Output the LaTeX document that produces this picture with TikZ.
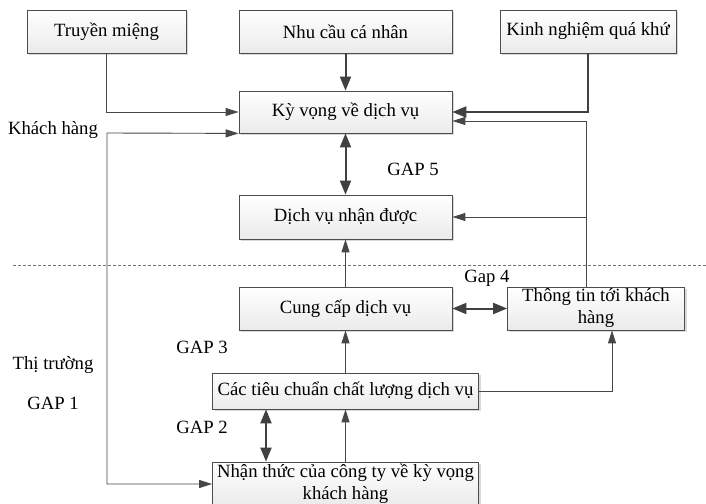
\documentclass[tikz,border=0pt]{standalone}
\usepackage{fontspec}
\setmainfont{Liberation Serif}
\usetikzlibrary{arrows.meta,shadows,calc}
\begin{document}
\begin{tikzpicture}[x=1pt,y=-1pt,
  box/.style={draw=black!70, line width=0.8pt, top color=white, bottom color=black!8,
    drop shadow={shadow xshift=2pt, shadow yshift=-2pt, fill=black!15, opacity=1},
    inner sep=0pt, align=center, font=\fontsize{18.7}{22}\selectfont},
  lbl/.style={font=\fontsize{18.7}{22}\selectfont, inner sep=0pt},
  lnthin/.style={draw=black!72, line width=0.9pt, -{Triangle[length=13pt,width=8pt]}},
  lnthinboth/.style={draw=black!72, line width=0.9pt, {Triangle[length=13pt,width=8pt]}-{Triangle[length=13pt,width=8pt]}},
  lnthick/.style={draw=black!75, line width=2pt, -{Triangle[length=14pt,width=11pt]}},
  lnthickboth/.style={draw=black!75, line width=2pt, {Triangle[length=14pt,width=11pt]}-{Triangle[length=14pt,width=11pt]}},
]
\useasboundingbox[fill=white] (0,0) rectangle (706,503);

\node[box, minimum width=159pt, minimum height=43pt] (tm) at (106.5,31.5) {Truyền miệng};
\node[box, minimum width=213pt, minimum height=43pt] (nc) at (345.5,31.5) {Nhu cầu cá nhân};
\node[box, minimum width=176pt, minimum height=43pt] (kn) at (588,31.5) {Kinh nghiệm quá khứ};
\node[box, minimum width=213pt, minimum height=42pt] (kv) at (345.5,112) {Kỳ vọng về dịch vụ};
\node[box, minimum width=213pt, minimum height=44pt] (dv) at (345.5,217) {Dịch vụ nhận được};
\node[box, minimum width=213pt, minimum height=43pt] (cc) at (345.5,308.5) {Cung cấp dịch vụ};
\node[box, minimum width=177pt, minimum height=43pt] (tt) at (596,308.5) {Thông tin tới khách\\hàng};
\node[box, minimum width=266pt, minimum height=36pt] (ts) at (345.5,391) {Các tiêu chuẩn chất lượng dịch vụ};
\node[box, minimum width=266pt, minimum height=44pt] (nt) at (345.5,484) {Nhận thức của công ty về kỳ vọng\\khách hàng};

\draw[black!55, line width=0.7pt, dash pattern=on 3pt off 2pt] (13,265) -- (706,265);

\node[lbl] (l1) at (53,130) {Khách hàng};
\node[lbl] (l2) at (413,169) {GAP 5};
\node[lbl] (l3) at (487,278) {Gap 4};
\node[lbl] (l4) at (202,347) {GAP 3};
\node[lbl] (l5) at (53,365) {Thị trường};
\node[lbl] (l6) at (53,403) {GAP 1};
\node[lbl] (l7) at (202,427) {GAP 2};

\coordinate (c1) at (107,133);
\coordinate (c2) at (107,484);
\coordinate (j1) at (586,121);
\coordinate (j2) at (586,217);
\coordinate (j3) at (612,391);
\coordinate (g2) at (266,0);

\draw[lnthin] (tm.south) |- (kv.west);
\draw[lnthick] (nc.south) -- (kv.north);
\draw[lnthick] (kn.south) |- (kv.east);
\draw[lnthinboth] (kv.south west) -- (c1) -- (c2) -- (nt.west);
\draw[lnthickboth] (kv.south) -- (dv.north);
\draw[lnthin] (cc.north) -- (dv.south);
\draw[lnthin] (tt.north -| j1) -- (j1) -- (j1 -| kv.east);
\draw[lnthin] (j2) -- (dv.east);
\draw[lnthickboth] (cc.east) -- (tt.west);
\draw[lnthin] (ts.north) -- (cc.south);
\draw[lnthin] (ts.east) -- (j3) -- (j3 |- tt.south);
\draw[lnthickboth] (ts.south -| g2) -- (nt.north -| g2);
\draw[lnthin] (nt.north) -- (ts.south);
\end{tikzpicture}
\end{document}
